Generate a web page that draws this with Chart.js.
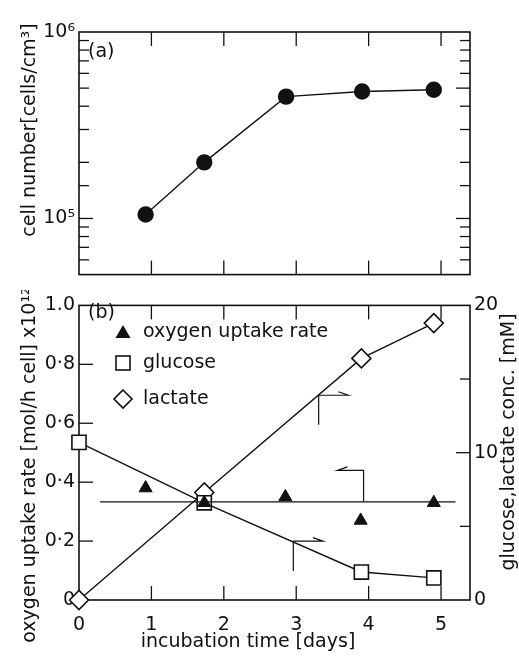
<!DOCTYPE html>
<html>
<head>
<meta charset="utf-8">
<script src="https://cdn.jsdelivr.net/npm/chart.js@4"></script>
<style>
  html, body { margin: 0; padding: 0; background: #fff; }
  #wrap { position: relative; width: 519px; height: 657px; background: #fff; }
  canvas { position: absolute; left: 0; }
  #cellChart { top: 0; }
  #rateChart { top: 290px; }
</style>
</head>
<body>
<div id="wrap">
  <canvas id="cellChart" width="519" height="290"></canvas>
  <canvas id="rateChart" width="519" height="367"></canvas>
</div>
<script>
// (a) cell number
const cellDays = [0.92, 1.73, 2.86, 3.91, 4.90];
const cellNumber = [1.05e5, 2.0e5, 4.5e5, 4.8e5, 4.9e5];

// (b) oxygen uptake rate x10^12 [mol/h cell]
const uptakeDays = [0.92, 1.73, 2.85, 3.89, 4.90];
const uptakeRate = [0.38, 0.33, 0.35, 0.27, 0.33];
const uptakeMeanDays = [0.29, 5.2];
const uptakeMean = [0.333, 0.333];

// (b) glucose / lactate conc. [mM]
const concDays = [0, 1.73, 3.90, 4.90];
const glucose = [10.7, 6.6, 1.9, 1.5];
const lactate = [0, 7.3, 16.4, 18.8];

// tick labels
const dayTickLabels = ['0', '1', '2', '3', '4', '5'];
const rateTicks = [0, 0.2, 0.4, 0.6, 0.8, 1.0];
const rateTickLabels = ['0', '0·2', '0·4', '0·6', '0·8', '1.0'];
const concTicks = [0, 5, 10, 15, 20];
const concTickLabels = ['0', '', '10', '', '20'];

// little arrows telling which axis a curve belongs to
const arrows = [
  { axis: 'y2', xs: [3.31, 3.31, 3.72], ys: [11.9, 13.9, 13.9] },  // lactate ->
  { axis: 'y',  xs: [3.93, 3.93, 3.57], ys: [0.334, 0.44, 0.44] }, // oxygen <-
  { axis: 'y2', xs: [2.96, 2.96, 3.37], ys: [1.97, 4.0, 4.0] }     // glucose ->
];

const FONT = 'DejaVu Sans';
const FSIZE = 19;
const INK = '#111';
const toPoints = (xs, ys) => xs.map((x, i) => ({ x: x, y: ys[i] }));

function line(ctx, x0, y0, x1, y1) {
  ctx.beginPath(); ctx.moveTo(x0, y0); ctx.lineTo(x1, y1); ctx.stroke();
}

// frame + ticks pointing inwards
function drawFrame(chart, leftLen, rightScale, rightLen) {
  const ctx = chart.ctx, a = chart.chartArea;
  ctx.save();
  ctx.strokeStyle = INK;
  ctx.lineWidth = 1.6;
  ctx.strokeRect(a.left, a.top, a.right - a.left, a.bottom - a.top);
  ctx.lineWidth = 1.3;
  const x = chart.scales.x;
  x.ticks.forEach(t => {
    const px = x.getPixelForValue(t.value);
    if (px < a.left + 2 || px > a.right - 2) return;
    line(ctx, px, a.bottom, px, a.bottom - 14);
    line(ctx, px, a.top, px, a.top + 14);
  });
  const y = chart.scales.y;
  y.ticks.forEach(t => {
    const py = y.getPixelForValue(t.value);
    if (py < a.top + 1 || py > a.bottom - 1) return;
    line(ctx, a.left, py, a.left + leftLen(t.value), py);
  });
  rightScale.ticks.forEach(t => {
    const py = rightScale.getPixelForValue(t.value);
    if (py < a.top + 1 || py > a.bottom - 1) return;
    line(ctx, a.right, py, a.right - rightLen(t.value), py);
  });
  ctx.restore();
}

function vText(ctx, text, x, y) {
  ctx.save();
  ctx.translate(x, y);
  ctx.rotate(-Math.PI / 2);
  ctx.fillText(text, 0, 0);
  ctx.restore();
}

const isDecade = v => Math.abs(Math.log10(v) - Math.round(Math.log10(v))) < 1e-6;

// ---------- (a) ----------
new Chart(document.getElementById('cellChart'), {
  type: 'line',
  data: {
    datasets: [{
      data: toPoints(cellDays, cellNumber),
      borderColor: INK,
      borderWidth: 1.4,
      pointRadius: 7.5,
      pointBackgroundColor: INK,
      pointBorderColor: INK,
      tension: 0,
      clip: false
    }]
  },
  options: {
    responsive: false,
    animation: false,
    layout: { padding: { top: 32, left: 0, right: 0, bottom: 0 } },
    plugins: { legend: { display: false }, tooltip: { enabled: false } },
    scales: {
      x: {
        type: 'linear', min: 0, max: 5.4,
        ticks: { stepSize: 1, display: false, autoSkip: false, includeBounds: false },
        grid: { display: false, drawTicks: false },
        border: { display: false },
        afterFit: s => { s.height = 12; }
      },
      y: {
        type: 'logarithmic', min: 5e4, max: 1e6,
        ticks: {
          autoSkip: false,
          padding: 4,
          color: INK,
          font: { family: FONT, size: FSIZE },
          callback: v => v === 1e5 ? '10⁵' : (v === 1e6 ? '10⁶' : '')
        },
        grid: { display: false, drawTicks: false },
        border: { display: false },
        afterFit: s => { s.width = 79; }
      },
      y2: {
        type: 'logarithmic', min: 5e4, max: 1e6, position: 'right',
        ticks: { autoSkip: false, display: false },
        grid: { display: false, drawTicks: false },
        border: { display: false },
        afterFit: s => { s.width = 49; }
      }
    }
  },
  plugins: [{
    id: 'paperA',
    beforeDatasetsDraw(chart) {
      drawFrame(chart, v => isDecade(v) ? 14 : 10, chart.scales.y,
        v => (isDecade(v) || v === 5e5) ? 14 : 10);
    },
    afterDraw(chart) {
      const ctx = chart.ctx;
      ctx.save();
      ctx.fillStyle = INK;
      ctx.font = FSIZE + 'px "' + FONT + '"';
      ctx.textBaseline = 'middle';
      ctx.textAlign = 'left';
      ctx.fillText('(a)', 88, 52);
      ctx.textAlign = 'center';
      vText(ctx, 'cell number[cells/cm³]', 30, 130);
      ctx.restore();
    }
  }]
});

// ---------- (b) ----------
new Chart(document.getElementById('rateChart'), {
  type: 'line',
  data: {
    datasets: [
      {
        label: 'oxygen uptake rate',
        data: toPoints(uptakeDays, uptakeRate),
        yAxisID: 'y',
        showLine: false,
        pointStyle: 'triangle',
        pointRadius: 7.5,
        pointBackgroundColor: INK,
        pointBorderColor: INK,
        pointBorderWidth: 1,
        clip: false
      },
      {
        label: 'mean uptake',
        data: toPoints(uptakeMeanDays, uptakeMean),
        yAxisID: 'y',
        borderColor: INK,
        borderWidth: 1.4,
        pointRadius: 0,
        clip: false
      },
      {
        label: 'glucose',
        data: toPoints(concDays, glucose),
        yAxisID: 'y2',
        borderColor: INK,
        borderWidth: 1.4,
        pointStyle: 'rect',
        pointRadius: 10,
        pointBackgroundColor: '#fff',
        pointBorderColor: INK,
        pointBorderWidth: 1.6,
        tension: 0,
        clip: false
      },
      {
        label: 'lactate',
        data: toPoints(concDays, lactate),
        yAxisID: 'y2',
        borderColor: INK,
        borderWidth: 1.4,
        pointStyle: 'rectRot',
        pointRadius: 9.5,
        pointBackgroundColor: '#fff',
        pointBorderColor: INK,
        pointBorderWidth: 1.6,
        tension: 0,
        clip: false
      }
    ]
  },
  options: {
    responsive: false,
    animation: false,
    layout: { padding: { top: 7, left: 0, right: 0, bottom: 0 } },
    plugins: { legend: { display: false }, tooltip: { enabled: false } },
    scales: {
      x: {
        type: 'linear', min: 0, max: 5.4,
        ticks: {
          stepSize: 1, padding: 14, color: INK, autoSkip: false, maxRotation: 0,
          includeBounds: false,
          font: { family: FONT, size: FSIZE },
          callback: v => Number.isInteger(v) ? dayTickLabels[v] : ''
        },
        grid: { display: false, drawTicks: false },
        border: { display: false },
        afterFit: s => { s.height = 57; }
      },
      y: {
        type: 'linear', min: 0, max: 1.0,
        ticks: {
          stepSize: 0.2, padding: 4, color: INK, autoSkip: false,
          font: { family: FONT, size: FSIZE },
          callback: v => {
            const i = rateTicks.findIndex(t => Math.abs(t - v) < 1e-6);
            return i >= 0 ? rateTickLabels[i] : '';
          }
        },
        grid: { display: false, drawTicks: false },
        border: { display: false },
        afterFit: s => { s.width = 79; }
      },
      y2: {
        type: 'linear', min: 0, max: 20, position: 'right',
        ticks: {
          stepSize: 5, padding: 4, color: INK, autoSkip: false,
          font: { family: FONT, size: FSIZE },
          callback: v => {
            const i = concTicks.indexOf(v);
            return i >= 0 ? concTickLabels[i] : '';
          }
        },
        grid: { display: false, drawTicks: false },
        border: { display: false },
        afterFit: s => { s.width = 49; }
      }
    }
  },
  plugins: [{
    id: 'paperB',
    beforeDatasetsDraw(chart) {
      drawFrame(chart, () => 14, chart.scales.y2, v => v === 10 ? 14 : 10);
    },
    afterDraw(chart) {
      const ctx = chart.ctx, xs = chart.scales.x;
      ctx.save();
      ctx.strokeStyle = INK;
      ctx.fillStyle = INK;
      ctx.lineWidth = 1.2;

      // axis arrows
      arrows.forEach(ar => {
        const ys = chart.scales[ar.axis];
        const p = ar.xs.map((x, i) => [xs.getPixelForValue(x), ys.getPixelForValue(ar.ys[i])]);
        ctx.beginPath();
        ctx.moveTo(p[0][0], p[0][1]);
        ctx.lineTo(p[1][0], p[1][1]);
        ctx.lineTo(p[2][0], p[2][1]);
        const dir = Math.sign(p[2][0] - p[1][0]);
        ctx.lineTo(p[2][0] - dir * 10, p[2][1] - 3.5);
        ctx.stroke();
      });

      // legend
      ctx.lineWidth = 1.6;
      ctx.beginPath();
      ctx.moveTo(123, 42 - 7); ctx.lineTo(130.5, 42 + 6); ctx.lineTo(115.5, 42 + 6); ctx.closePath();
      ctx.fill();
      ctx.fillStyle = '#fff';
      ctx.fillRect(116, 66, 14, 14);
      ctx.strokeRect(116, 66, 14, 14);
      ctx.beginPath();
      ctx.moveTo(123, 100); ctx.lineTo(132, 109); ctx.lineTo(123, 118); ctx.lineTo(114, 109); ctx.closePath();
      ctx.fill(); ctx.stroke();

      ctx.fillStyle = INK;
      ctx.font = FSIZE + 'px "' + FONT + '"';
      ctx.textBaseline = 'middle';
      ctx.textAlign = 'left';
      ctx.fillText('oxygen uptake rate', 143, 42);
      ctx.fillText('glucose', 143, 73);
      ctx.fillText('lactate', 143, 109);
      ctx.fillText('(b)', 88, 23);

      // axis titles
      ctx.textAlign = 'center';
      ctx.fillText('incubation time [days]', 248, 352);
      vText(ctx, 'oxygen uptake rate [mol/h cell] x10¹²', 30, 175);
      vText(ctx, 'glucose,lactate conc. [mM]', 509, 152);
      ctx.restore();
    }
  }]
});
</script>
</body>
</html>
